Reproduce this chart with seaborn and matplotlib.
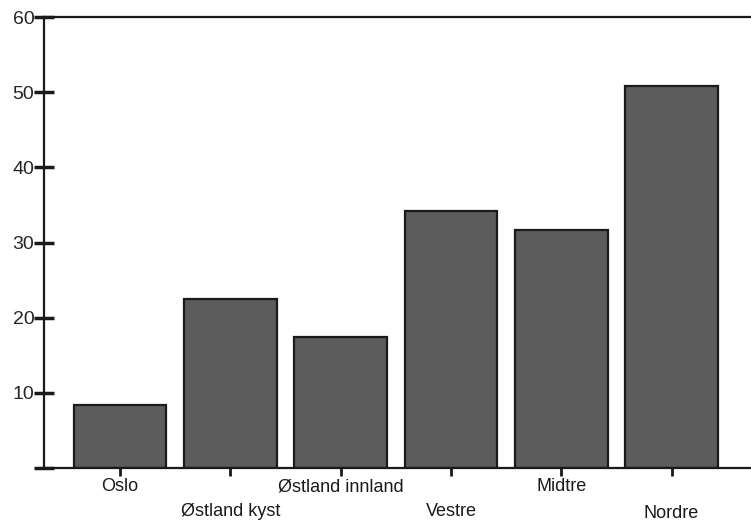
import matplotlib
matplotlib.use("Agg")
import matplotlib.pyplot as plt
from matplotlib import font_manager
import seaborn as sns
import pandas as pd

regions = ["Oslo", "Østland kyst", "Østland innland", "Vestre", "Midtre", "Nordre"]
values = [8.4, 22.5, 17.4, 34.2, 31.6, 50.8]
y_ticks = [10, 20, 30, 40, 50, 60]

sns.set_theme(style="white")
installed = {f.name for f in font_manager.fontManager.ttflist}
family = [f for f in ["Liberation Sans Narrow", "Liberation Sans", "DejaVu Sans"] if f in installed]
plt.rcParams["font.family"] = family

df = pd.DataFrame({"region": regions, "value": values})

fig = plt.figure(figsize=(7.51, 5.22), dpi=100)
ax = fig.add_axes([44 / 751, 1 - 468 / 522, 1 - 44 / 751, (468 - 17) / 522])

sns.barplot(data=df, x="region", y="value", color="#5c5c5c", saturation=1,
            edgecolor="#1a1a1a", linewidth=1.6, width=0.84, ax=ax)

ax.set_xlim(-0.69, 5.72)
ax.set_ylim(0, 60)
ax.set_xlabel("")
ax.set_ylabel("")

for side in ["top", "left", "bottom"]:
    ax.spines[side].set_visible(True)
    ax.spines[side].set_color("#1a1a1a")
    ax.spines[side].set_linewidth(1.6)
ax.spines["right"].set_visible(False)

# y ticks cross the axis line
ax.set_yticks([0] + y_ticks)
ax.set_yticklabels([""] + [str(v) for v in y_ticks], fontsize=14)
ax.tick_params(axis="y", which="major", direction="inout", length=14, width=2.5,
               color="#1a1a1a", pad=0, left=True)

# x labels staggered on two rows
ax.set_xticks(range(len(regions)))
ax.set_xticklabels([])
ax.tick_params(axis="x", which="major", direction="out", length=6, width=2,
               color="#1a1a1a", bottom=True)
for i, name in enumerate(regions):
    dy = 10 if i % 2 == 0 else 35
    if i == 5:
        dy = 37
    ax.annotate(name, xy=(i, 0), xycoords=("data", "axes fraction"),
                xytext=(0, -dy), textcoords="offset pixels",
                ha="center", va="top", fontsize=13, color="#1a1a1a")

fig.savefig("out.png", dpi=100)
